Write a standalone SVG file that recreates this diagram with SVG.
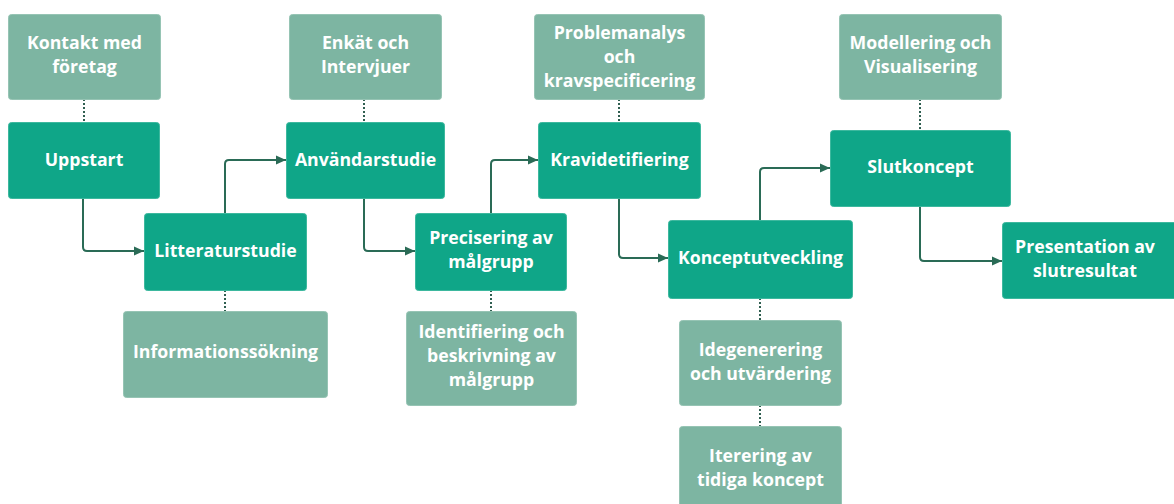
<svg xmlns="http://www.w3.org/2000/svg" width="1174" height="504" viewBox="0 0 1174 504">
<defs>
<marker id="arr" viewBox="0 0 10 10" refX="10" refY="5" markerWidth="10" markerHeight="10" markerUnits="userSpaceOnUse" orient="auto">
<path d="M0,0.5 L10,5 L0,9.5 Z" fill="#2A6B56"/>
</marker>
<style>
.m{fill:#0FA688;stroke:#3DB89E;stroke-width:1}
.s{fill:#7DB5A2;stroke:#96C4B4;stroke-width:1}
.t{font-family:"Open Sans","Noto Sans",sans-serif;font-weight:bold;font-size:17.7px;fill:#fff;text-anchor:middle}
.a{fill:none;stroke:#2A6B56;stroke-width:2;stroke-linejoin:round}
.d{fill:none;stroke:#2F5E50;stroke-width:2;stroke-dasharray:2 2}
</style>
</defs>
<g id="connectors">
<path class="a" d="M83,198 V247 Q83,251 87,251 H144" marker-end="url(#arr)"/>
<path class="a" d="M225,213 V164 Q225,160 229,160 H286" marker-end="url(#arr)"/>
<path class="a" d="M364,198 V247 Q364,251 368,251 H415" marker-end="url(#arr)"/>
<path class="a" d="M491,213 V164 Q491,160 495,160 H538" marker-end="url(#arr)"/>
<path class="a" d="M619,198 V254 Q619,258 623,258 H668" marker-end="url(#arr)"/>
<path class="a" d="M760,220 V172 Q760,168 764,168 H830" marker-end="url(#arr)"/>
<path class="a" d="M920,206 V257 Q920,261 924,261 H1002" marker-end="url(#arr)"/>
<path class="d" d="M84,99 V122"/>
<path class="d" d="M364,99 V122"/>
<path class="d" d="M619,99 V122"/>
<path class="d" d="M920,99 V130"/>
<path class="d" d="M225,290 V311"/>
<path class="d" d="M491,290 V311"/>
<path class="d" d="M760,298 V320"/>
<path class="d" d="M760,405 V426"/>
</g>
<g id="kontakt"><rect class="s" x="8.5" y="14.5" width="152" height="85" rx="3"/><text class="t" x="84.5" y="49">Kontakt med</text><text class="t" x="84.5" y="73">företag</text></g>
<g id="uppstart"><rect class="m" x="8.5" y="122.5" width="151" height="76" rx="3"/><text class="t" x="84" y="166">Uppstart</text></g>
<g id="litteraturstudie"><rect class="m" x="144.5" y="213.5" width="162" height="77" rx="3"/><text class="t" x="225.5" y="257">Litteraturstudie</text></g>
<g id="informationssokning"><rect class="s" x="123.5" y="311.5" width="204" height="86" rx="3"/><text class="t" x="225.5" y="358">Informationssökning</text></g>
<g id="enkat"><rect class="s" x="289.5" y="14.5" width="152" height="85" rx="3"/><text class="t" x="365.5" y="49">Enkät och</text><text class="t" x="365.5" y="73">Intervjuer</text></g>
<g id="anvandarstudie"><rect class="m" x="286.5" y="122.5" width="158" height="76" rx="3"/><text class="t" x="365.5" y="166">Användarstudie</text></g>
<g id="precisering"><rect class="m" x="415.5" y="213.5" width="151" height="77" rx="3"/><text class="t" x="491" y="244">Precisering av</text><text class="t" x="491" y="268">målgrupp</text></g>
<g id="identifiering"><rect class="s" x="406.5" y="311.5" width="170" height="94" rx="3"/><text class="t" x="491.5" y="338">Identifiering och</text><text class="t" x="491.5" y="362">beskrivning av</text><text class="t" x="491.5" y="386">målgrupp</text></g>
<g id="problemanalys"><rect class="s" x="534.5" y="14.5" width="170" height="85" rx="3"/><text class="t" x="619.5" y="39">Problemanalys</text><text class="t" x="619.5" y="63">och</text><text class="t" x="619.5" y="87">kravspecificering</text></g>
<g id="kravidetifiering"><rect class="m" x="538.5" y="122.5" width="162" height="76" rx="3"/><text class="t" x="619.5" y="166">Kravidetifiering</text></g>
<g id="konceptutveckling"><rect class="m" x="668.5" y="220.5" width="184" height="78" rx="3"/><text class="t" x="760.5" y="264">Konceptutveckling</text></g>
<g id="idegenerering"><rect class="s" x="679.5" y="320.5" width="162" height="85" rx="3"/><text class="t" x="760.5" y="356">Idegenerering</text><text class="t" x="760.5" y="380">och utvärdering</text></g>
<g id="iterering"><rect class="s" x="679.5" y="426.5" width="162" height="85" rx="3"/><text class="t" x="760.5" y="462">Iterering av</text><text class="t" x="760.5" y="486">tidiga koncept</text></g>
<g id="modellering"><rect class="s" x="839.5" y="14.5" width="162" height="85" rx="3"/><text class="t" x="920.5" y="49">Modellering och</text><text class="t" x="920.5" y="73">Visualisering</text></g>
<g id="slutkoncept"><rect class="m" x="830.5" y="130.5" width="180" height="76" rx="3"/><text class="t" x="920.5" y="173">Slutkoncept</text></g>
<g id="presentation"><rect class="m" x="1002.5" y="222.5" width="175" height="76" rx="3"/><text class="t" x="1085" y="253">Presentation av</text><text class="t" x="1085" y="277">slutresultat</text></g>
</svg>
